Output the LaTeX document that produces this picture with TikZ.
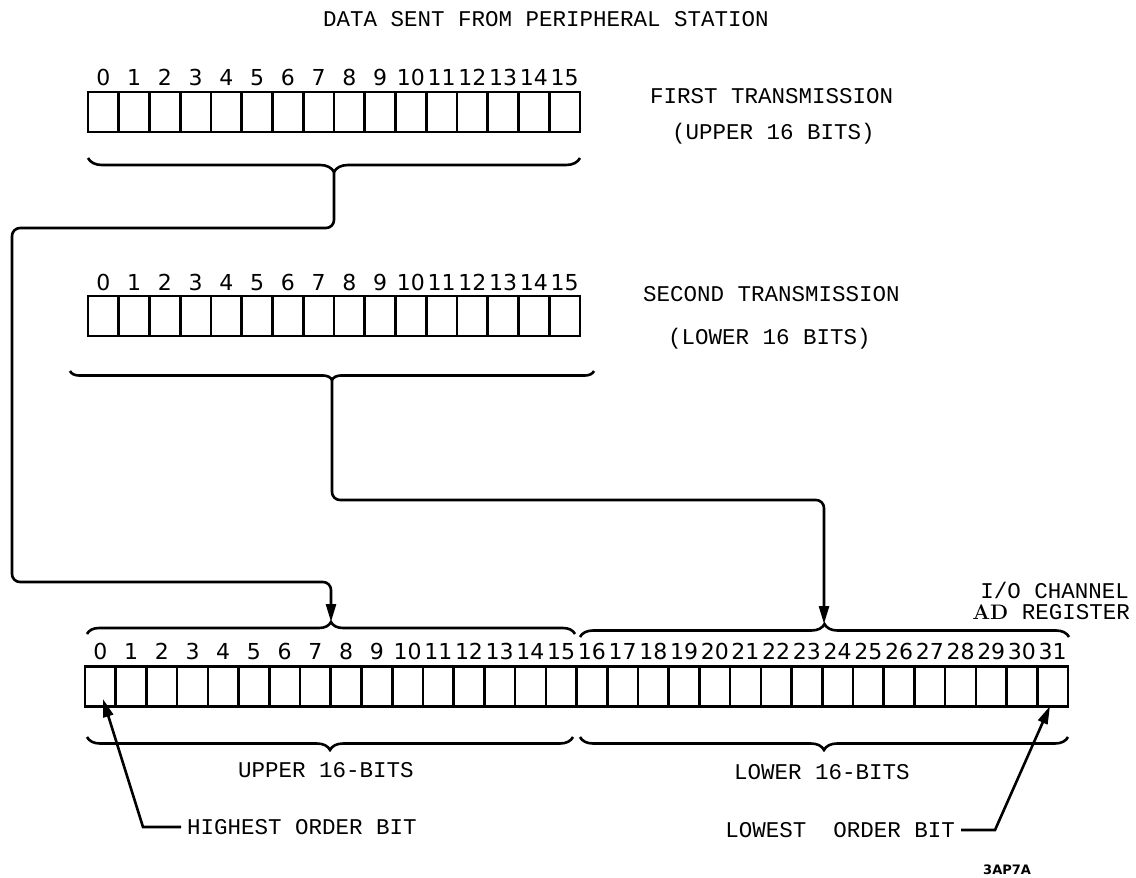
\documentclass[tikz,border=0pt]{standalone}
\usepackage{fontspec}
\usetikzlibrary{arrows.meta,decorations.pathreplacing}
\newfontfamily\lblfont{Liberation Mono}
\newfontfamily\digfont{DejaVu Sans}
\begin{document}
\begin{tikzpicture}[x=1pt,y=-1pt,
  lbl/.style={font=\lblfont\fontsize{22.5}{24}\selectfont, inner sep=0pt, text height=14.5pt, text depth=0pt},
  dig/.style={font=\digfont\fontsize{22}{23}\selectfont, inner sep=0pt, text height=15.5pt, text depth=0pt},
  cell/.style={draw, line width=2.6pt, minimum width=30.72pt, minimum height=40pt, inner sep=0pt, outer sep=0pt},
  conn/.style={line width=2.6pt, rounded corners=8pt},
  tipped/.style={-{Triangle[length=18pt,width=10pt]}},
  brc/.style={decorate, decoration={brace, amplitude=#1}, line width=2.6pt},
]
\useasboundingbox (0,0) rectangle (1136,878);

% title
\node[lbl, anchor=west] (title) at (323,19) {DATA SENT FROM PERIPHERAL STATION};

% first register
\foreach \i in {0,...,15} {
  \node[cell] (a\i) at ({88+30.75*(\i+0.5)},112) {};
  \node[dig] (na\i) at ({88+30.75*(\i+0.5)},78) {\i};
}
\node[lbl, anchor=west] (ft1) at (650,96) {FIRST TRANSMISSION};
\node[lbl, anchor=west] (ft2) at (672,132) {(UPPER 16 BITS)};
\draw[brc=14pt] (580,158) -- (88,158);
\coordinate (tbtip) at (334,172);

% second register
\foreach \i in {0,...,15} {
  \node[cell] (b\i) at ({88+30.75*(\i+0.5)},316) {};
  \node[dig] (nb\i) at ({88+30.75*(\i+0.5)},283) {\i};
}
\node[lbl, anchor=west] (st1) at (643,294) {SECOND TRANSMISSION};
\node[lbl, anchor=west] (st2) at (668,337) {(LOWER 16 BITS)};
\draw[brc=9pt] (594,371) -- (70,371);
\coordinate (sbtip) at (332,380);

% AD register
\foreach \i in {0,...,31} {
  \node[cell] (c\i) at ({85+30.72*(\i+0.5)},686.5) {};
  \node[dig] (nc\i) at ({85+30.72*(\i+0.5)},652) {\i};
}
\draw[brc=12pt] (87,634) -- (575,634);
\draw[brc=13pt] (580,637) -- (1069,637);
\coordinate (ubtip) at (331,622);
\coordinate (rbtip) at (824,624);
\draw[brc=13pt] (573,737) -- (87,737);
\draw[brc=13pt] (1068,737) -- (580,737);

\node[lbl, anchor=east] (io1) at (1129,591) {I/O CHANNEL};
\node[lbl, anchor=east] (io2) at (1130,612) {{\rmfamily\bfseries\fontsize{21}{22}\selectfont AD} REGISTER};

\node[lbl] (up16) at (326,770) {UPPER 16-BITS};
\node[lbl] (lo16) at (822,772) {LOWER 16-BITS};

% connectors
\draw[conn, tipped] (tbtip) -- (334,228) -- (12,228) -- (12,582) -- (331,582) -- (ubtip);
\draw[conn, tipped] (sbtip) -- (332,500) -- (824,500) -- (rbtip);

% leaders
\node[lbl, anchor=west, outer sep=6pt] (hob) at (181,827) {HIGHEST ORDER BIT};
\coordinate (hobtip) at (103,699);
\draw[line width=2.6pt, tipped] (hob.west) -- (143,827) -- (hobtip);

\node[lbl, anchor=east, outer sep=6pt] (lob) at (961,830) {LOWEST\ \ ORDER BIT};
\coordinate (lobtip) at (1050,706);
\draw[line width=2.6pt, tipped] (lob.east) -- (995,830) -- (lobtip);

\node[font=\digfont\bfseries\fontsize{13}{14}\selectfont, anchor=west, inner sep=0pt] (code) at (983,870) {3AP7A};
\end{tikzpicture}
\end{document}
